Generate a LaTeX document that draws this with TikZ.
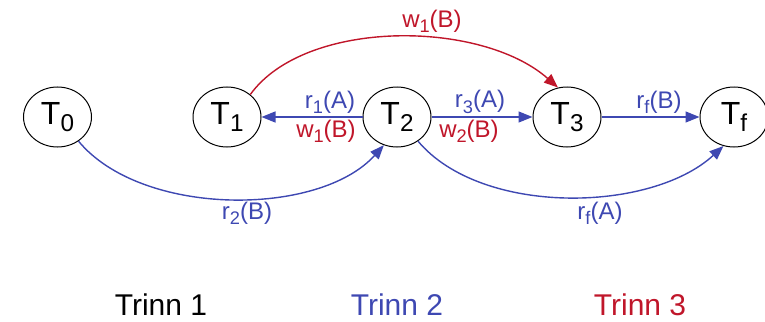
\documentclass[tikz,border=0pt]{standalone}
\usepackage{fontspec}
\setmainfont{Liberation Sans}
\usetikzlibrary{shapes.geometric,arrows.meta}
\definecolor{tblue}{RGB}{62,72,178}
\definecolor{tred}{RGB}{192,22,42}
\newcommand\mysub[1]{\raisebox{-0.22em}{\scalebox{0.76}{#1}}}
\tikzset{
  tnode/.style={ellipse,draw=black,line width=1pt,minimum width=68pt,minimum height=60pt,inner sep=0pt,font=\fontsize{32}{36}\selectfont},
  lbl/.style={font=\fontsize{24}{28}\selectfont,inner sep=0pt},
  stage/.style={font=\fontsize{30}{34}\selectfont,inner sep=0pt},
  conn/.style={line width=1.4pt,-{Triangle[length=14pt,width=11pt]}},
}
\begin{document}
\begin{tikzpicture}[x=1pt,y=-1pt]
\useasboundingbox (0,0) rectangle (765,321);
\node[tnode] (T0) at (57.5,117) {T\mysub{0}};
\node[tnode] (T1) at (227,117) {T\mysub{1}};
\node[tnode] (T2) at (397,117) {T\mysub{2}};
\node[tnode] (T3) at (567,117) {T\mysub{3}};
\node[tnode] (Tf) at (734,117) {T\mysub{f}};
% straight arrows
\draw[conn,tblue] (T2.west) -- (T1.east);
\draw[conn,tblue] (T2.east) -- (T3.west);
\draw[conn,tblue] (T3.east) -- (Tf.west);
% curves
\draw[conn,tred] (T1.44) .. controls +(55,-76) and +(-77,-68) .. (T3.107);
\draw[conn,tblue] (T0.-49) .. controls +(63,76) and +(-65,72) .. (T2.-115);
\draw[conn,tblue] (T2.-49) .. controls +(63,75) and +(-73,67) .. (Tf.-110);
% labels
\node[lbl,text=tblue] (l1) at (330,102) {r\mysub{1}(A)};
\node[lbl,text=tred] (l2) at (326,131) {w\mysub{1}(B)};
\node[lbl,text=tblue] (l3) at (480,102) {r\mysub{3}(A)};
\node[lbl,text=tred] (l4) at (469,131) {w\mysub{2}(B)};
\node[lbl,text=tblue] (l5) at (659,102) {r\mysub{f}(B)};
\node[lbl,text=tred] (l6) at (432,21) {w\mysub{1}(B)};
\node[lbl,text=tblue] (l7) at (247,213) {r\mysub{2}(B)};
\node[lbl,text=tblue] (l8) at (600,213) {r\mysub{f}(A)};
% stages
\node[stage,text=black] (s1) at (161,305) {Trinn 1};
\node[stage,text=tblue] (s2) at (397,305) {Trinn 2};
\node[stage,text=tred] (s3) at (640,305) {Trinn 3};
\end{tikzpicture}
\end{document}
